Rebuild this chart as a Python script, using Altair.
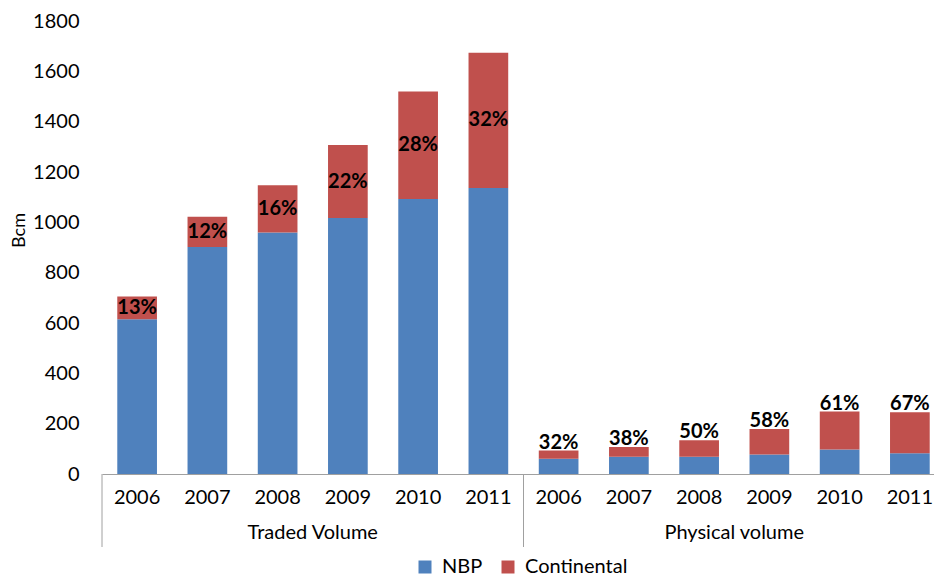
import altair as alt
import pandas as pd

groups = ["Traded Volume", "Physical volume"]
years = ["2006", "2007", "2008", "2009", "2010", "2011"]
series = ["NBP", "Continental"]
colors = ["#4F81BD", "#C0504D"]

traded_nbp = [615, 902, 960, 1017, 1093, 1136]
traded_cont = [90, 120, 187, 290, 427, 538]
traded_pct = ["13%", "12%", "16%", "22%", "28%", "32%"]

physical_nbp = [61, 69, 69, 77, 97, 82]
physical_cont = [32, 38, 65, 102, 151, 163]
physical_pct = ["32%", "38%", "50%", "58%", "61%", "67%"]

y_ticks = [0, 200, 400, 600, 800, 1000, 1200, 1400, 1600, 1800]

W, H = 832, 453
FULL_W = 843
FONT = "Lato"

keys = [f"{g}|{y}" for g in groups for y in years]

rows = []
for g, nbp, cont in [(groups[0], traded_nbp, traded_cont), (groups[1], physical_nbp, physical_cont)]:
    for y, n, c in zip(years, nbp, cont):
        rows.append({"key": f"{g}|{y}", "series": series[0], "value": n, "order": 0})
        rows.append({"key": f"{g}|{y}", "series": series[1], "value": c, "order": 1})
bars_df = pd.DataFrame(rows)

traded_lbl = pd.DataFrame({
    "key": [f"{groups[0]}|{y}" for y in years],
    "value": [n + c / 2 for n, c in zip(traded_nbp, traded_cont)],
    "label": traded_pct,
})
physical_lbl = pd.DataFrame({
    "key": [f"{groups[1]}|{y}" for y in years],
    "value": [n + c for n, c in zip(physical_nbp, physical_cont)],
    "label": physical_pct,
})
sep_df = pd.DataFrame({"key": [f"{g}|{years[0]}" for g in groups]})
grp_df = pd.DataFrame({"key": [f"{g}|{years[3]}" for g in groups], "label": groups})

xscale = alt.Scale(domain=keys, range=[0, FULL_W], paddingInner=0, paddingOuter=0)
yscale = alt.Scale(domain=[0, 1800], nice=False, zero=True)

x_axis = alt.Axis(title=None, labelExpr="split(datum.value, '|')[1]",
                  ticks=False, domain=True, domainColor="#A0A0A0", domainWidth=1,
                  labelFontSize=20, labelColor="#000000", labelFont=FONT,
                  labelPadding=13, labelAngle=0)
y_axis = alt.Axis(title="Bcm", values=y_ticks, format="d", grid=False, ticks=False, domain=False,
                  labelFontSize=20, labelColor="#000000", labelFont=FONT, labelPadding=23,
                  titleFontSize=18, titleFont=FONT, titleFontWeight="normal",
                  titleColor="#000000", titleX=-83, titleY=209, titleBaseline="middle",
                  titleAlign="center", titleAngle=270)


def xenc(**kw):
    return alt.X("key:N", scale=xscale, sort=keys, axis=x_axis, **kw)


def yenc(**kw):
    return alt.Y("value:Q", scale=yscale, axis=y_axis, **kw)


bars = alt.Chart(bars_df).mark_bar(width=alt.RelativeBandSize(0.565)).encode(
    x=xenc(),
    y=yenc(stack="zero"),
    color=alt.Color("series:N", scale=alt.Scale(domain=series, range=colors),
                    legend=alt.Legend(title=None, orient="none", legendX=313, legendY=536,
                                      direction="horizontal", symbolType="square", symbolSize=169,
                                      symbolStrokeWidth=0, labelFontSize=20, labelFont=FONT,
                                      labelColor="#000000", labelOffset=7, columnPadding=15,
                                      padding=0)),
    order=alt.Order("order:Q", sort="ascending"),
)

txt_traded = alt.Chart(traded_lbl).mark_text(
    font=FONT, fontSize=20, fontWeight="bold", color="#000000", baseline="middle"
).encode(
    x=xenc(),
    y=yenc(),
    text="label:N",
)

txt_phys = alt.Chart(physical_lbl).mark_text(
    font=FONT, fontSize=20, fontWeight="bold", color="#000000", baseline="alphabetic", dy=-2
).encode(
    x=xenc(),
    y=yenc(),
    text="label:N",
)

seps = alt.Chart(sep_df).mark_rule(color="#A0A0A0", strokeWidth=1).encode(
    x=xenc(bandPosition=0),
    y=alt.value(H),
    y2=alt.value(H + 73),
)

grp = alt.Chart(grp_df).mark_text(
    font=FONT, fontSize=20, color="#000000", baseline="middle"
).encode(
    x=xenc(bandPosition=0),
    y=alt.value(H + 59),
    text="label:N",
)

chart = alt.layer(bars, txt_traded, txt_phys, seps, grp).properties(
    width=W, height=H,
    autosize=alt.AutoSizeParams(type="none"),
    padding={"left": 94, "top": 13, "right": 0, "bottom": 103},
).configure(font=FONT).configure_view(stroke=None)

chart.save("out.html", embed_options={"renderer": "svg", "actions": False})
